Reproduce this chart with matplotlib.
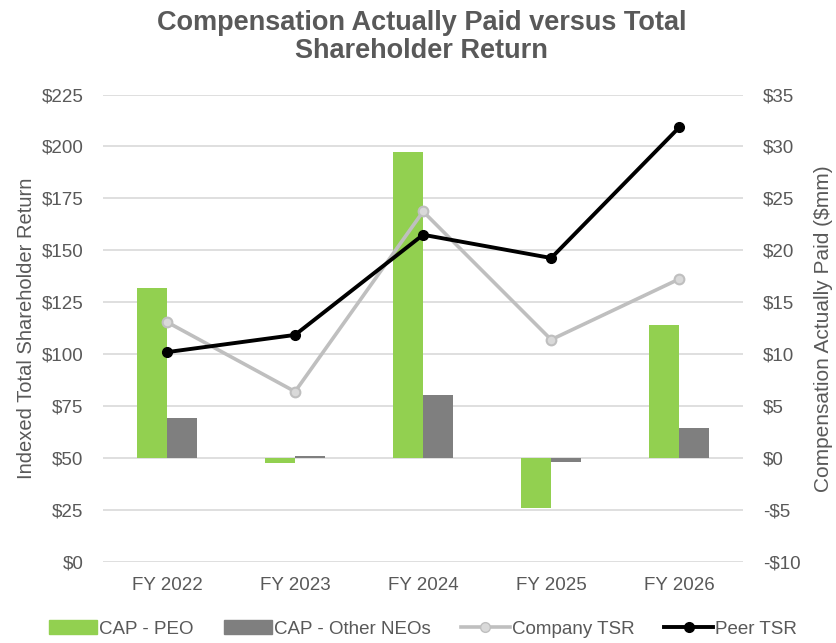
import matplotlib.pyplot as plt
import numpy as np
from matplotlib.patches import Patch
from matplotlib.lines import Line2D

plt.rcParams["font.family"] = ["Liberation Sans", "DejaVu Sans"]

years = ["FY 2022", "FY 2023", "FY 2024", "FY 2025", "FY 2026"]
cap_peo = [16.4, -0.5, 29.5, -4.8, 12.8]
cap_other_neos = [3.9, 0.2, 6.1, -0.35, 2.9]
company_tsr = [115.5, 82.0, 168.7, 107.0, 136.2]
peer_tsr = [101.0, 109.3, 157.5, 146.3, 209.2]

TEXT = "#595959"
GREEN = "#92D050"
DARK_GREY = "#7F7F7F"
LIGHT_GREY = "#BFBFBF"

fig = plt.figure(figsize=(8.37, 6.43), dpi=100)
ax = fig.add_axes([0.123, 0.126, 0.765, 0.727])
ax2 = ax.twinx()

x = np.arange(len(years))
width = 0.235

# bars on the right-hand ($mm) axis
ax2.bar(x - width / 2, cap_peo, width, color=GREEN, zorder=2)
ax2.bar(x + width / 2, cap_other_neos, width, color=DARK_GREY, zorder=2)
ax2.set_ylim(-10, 35)
ax2.set_yticks(np.arange(-10, 36, 5))
ax2.set_yticklabels([f"-${-v}" if v < 0 else f"${v}" for v in range(-10, 36, 5)])
ax2.grid(axis="y", color="#D9D9D9", linewidth=1.2, zorder=0)
ax2.set_axisbelow(True)
ax2.set_ylabel("Compensation Actually Paid ($mm)", color=TEXT, fontsize=15, labelpad=10)

# TSR lines on the left-hand axis, drawn above the bars
ax.set_zorder(ax2.get_zorder() + 1)
ax.patch.set_visible(False)
ax.plot(x, company_tsr, color=LIGHT_GREY, linewidth=2.6, marker="o", markersize=7,
        markerfacecolor="#D9D9D9", markeredgecolor=LIGHT_GREY, markeredgewidth=1.5)
ax.plot(x, peer_tsr, color="black", linewidth=2.8, marker="o", markersize=7,
        markerfacecolor="black", markeredgecolor="black")
ax.set_ylim(0, 225)
ax.set_yticks(np.arange(0, 226, 25))
ax.set_yticklabels([f"${v}" for v in range(0, 226, 25)])
ax.set_ylabel("Indexed Total Shareholder Return", color=TEXT, fontsize=14.5, labelpad=4)
ax.set_xlim(-0.5, len(years) - 0.5)
ax.set_xticks(x)
ax.set_xticklabels(years)

for a in (ax, ax2):
    for s in a.spines.values():
        s.set_visible(False)
    a.tick_params(length=0, labelsize=13.5, colors=TEXT, pad=14)
ax.tick_params(axis="x", pad=11)

fig.suptitle("Compensation Actually Paid versus Total\nShareholder Return",
             x=0.504, y=0.985, fontsize=19.5, fontweight="bold", color=TEXT, linespacing=1.1)

handles = [
    Patch(color=GREEN, label="CAP - PEO"),
    Patch(color=DARK_GREY, label="CAP - Other NEOs"),
    Line2D([], [], color=LIGHT_GREY, linewidth=2.6, marker="o", markersize=7,
           markerfacecolor="#D9D9D9", markeredgecolor=LIGHT_GREY, label="Company TSR"),
    Line2D([], [], color="black", linewidth=2.8, marker="o", markersize=7,
           markerfacecolor="black", label="Peer TSR"),
]
leg = fig.legend(handles=handles, loc="lower center", bbox_to_anchor=(0.505, -0.018), ncol=4,
                 frameon=False, fontsize=13.5, handlelength=2.6, handleheight=0.8,
                 handletextpad=0.1, columnspacing=1.6)
for t in leg.get_texts():
    t.set_color(TEXT)

fig.savefig("out.png", dpi=100)
